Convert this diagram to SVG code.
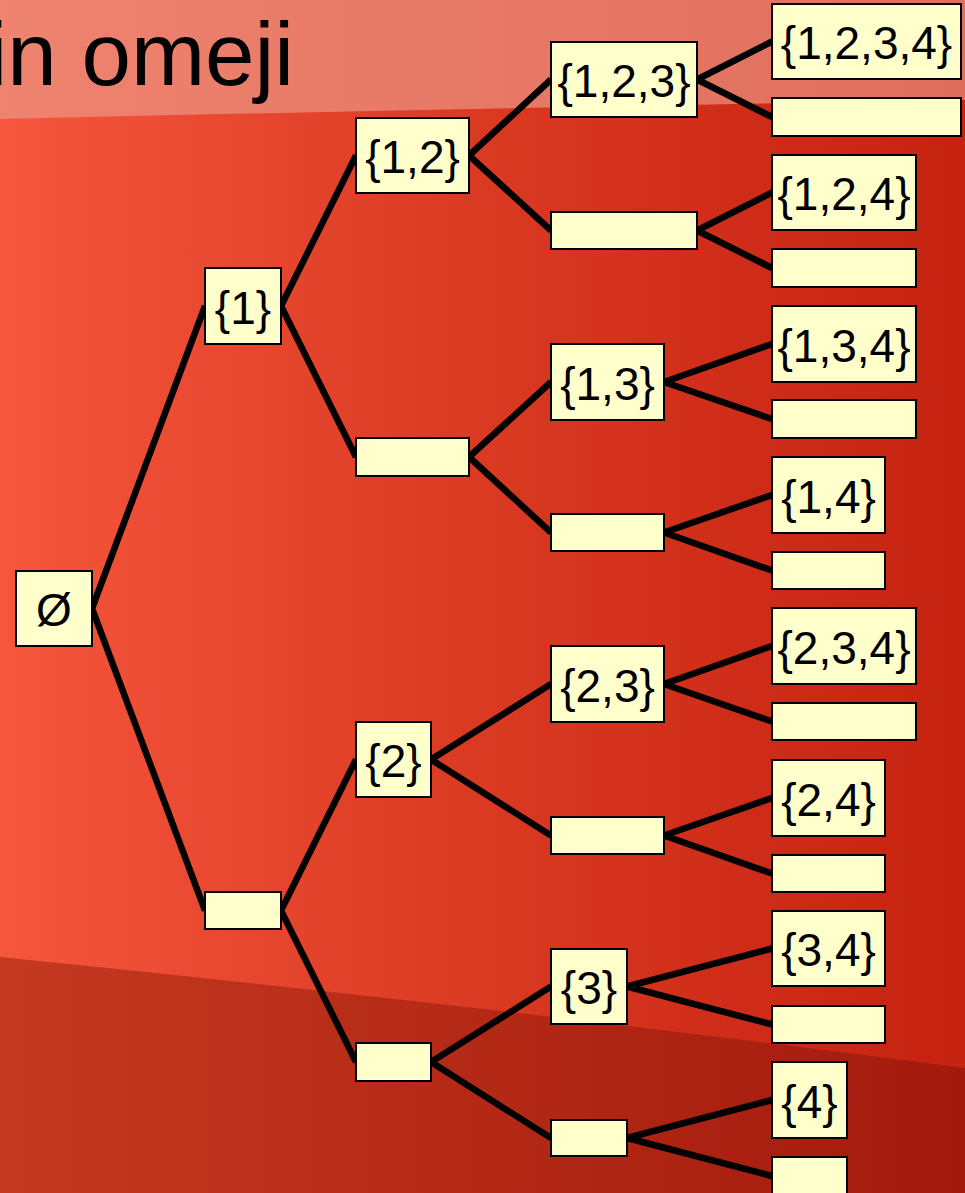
<svg xmlns="http://www.w3.org/2000/svg" width="965" height="1193" viewBox="0 0 965 1193">
<defs>
<linearGradient id="bgMain" x1="0" y1="0" x2="1" y2="0">
<stop offset="0" stop-color="#F6563C"/>
<stop offset="0.5" stop-color="#DA3922"/>
<stop offset="1" stop-color="#C52210"/>
</linearGradient>
<linearGradient id="bgTop" x1="0" y1="0" x2="1" y2="0">
<stop offset="0" stop-color="#EE836F"/>
<stop offset="1" stop-color="#DF6F5D"/>
</linearGradient>
<linearGradient id="bgBot" x1="0" y1="0" x2="1" y2="0">
<stop offset="0" stop-color="#C43920"/>
<stop offset="1" stop-color="#A3190C"/>
</linearGradient>
<style>
.box{fill:#FFFFCC;stroke:#000;stroke-width:2}
.lbl{font-family:"Liberation Sans",Arial,sans-serif;font-size:46px;fill:#000;text-anchor:middle}
.edge{stroke:#000;stroke-width:6.5;fill:none}
.title{font-family:"Liberation Sans",Arial,sans-serif;font-size:89px;fill:#000}
</style>
</defs>
<g id="background">
<rect x="0" y="0" width="965" height="1193" fill="url(#bgMain)"/>
<path d="M0,0 H965 V100 Q480,108 0,119 Z" fill="url(#bgTop)"/>
<path d="M0,957 Q480,1005 965,1068 V1193 H0 Z" fill="url(#bgBot)"/>
</g>
<text class="title" x="-12.6" y="85">in omeji</text>
<g id="connectors">
<path class="edge" d="M92,608.5 L205,306 M92,608.5 L205,910.5"/>
<path class="edge" d="M281,306 L356,155.5 M281,306 L356,457"/>
<path class="edge" d="M281,910.5 L356,759.5 M281,910.5 L356,1062"/>
<path class="edge" d="M469,155.5 L551,79.5 M469,155.5 L551,230.5"/>
<path class="edge" d="M469,457 L551,382 M469,457 L551,532.5"/>
<path class="edge" d="M431,759.5 L551,684 M431,759.5 L551,835.5"/>
<path class="edge" d="M431,1062 L551,986.5 M431,1062 L551,1138"/>
<path class="edge" d="M697,79.5 L772,41.5 M697,79.5 L772,117"/>
<path class="edge" d="M697,230.5 L772,192.5 M697,230.5 L772,268"/>
<path class="edge" d="M664,382 L772,344 M664,382 L772,419"/>
<path class="edge" d="M664,532.5 L772,495 M664,532.5 L772,570.5"/>
<path class="edge" d="M664,684 L772,646 M664,684 L772,721.5"/>
<path class="edge" d="M664,835.5 L772,798 M664,835.5 L772,873.5"/>
<path class="edge" d="M627,986.5 L772,948.5 M627,986.5 L772,1024.5"/>
<path class="edge" d="M627,1138 L772,1100 M627,1138 L772,1176"/>
</g>
<g id="n_empty_root"><rect class="box" x="16" y="571" width="76" height="75"/><text class="lbl" x="54" y="626">Ø</text></g>
<g id="n_1"><rect class="box" x="205" y="268" width="76" height="76"/><text class="lbl" x="243" y="323.5">{1}</text></g>
<g id="n_not1"><rect class="box" x="205" y="892" width="76" height="37"/></g>
<g id="n_12"><rect class="box" x="356" y="118" width="113" height="75"/><text class="lbl" x="412.5" y="173">{1,2}</text></g>
<g id="n_1not2"><rect class="box" x="356" y="438" width="113" height="38"/></g>
<g id="n_2"><rect class="box" x="356" y="722" width="75" height="75"/><text class="lbl" x="393.5" y="777">{2}</text></g>
<g id="n_not12"><rect class="box" x="356" y="1043" width="75" height="38"/></g>
<g id="n_123"><rect class="box" x="551" y="42" width="146" height="75"/><text class="lbl" x="624" y="97">{1,2,3}</text></g>
<g id="n_12not3"><rect class="box" x="551" y="212" width="146" height="37"/></g>
<g id="n_13"><rect class="box" x="551" y="344" width="113" height="76"/><text class="lbl" x="607.5" y="399.5">{1,3}</text></g>
<g id="n_1not23"><rect class="box" x="551" y="514" width="113" height="37"/></g>
<g id="n_23"><rect class="box" x="551" y="646" width="113" height="76"/><text class="lbl" x="607.5" y="701.5">{2,3}</text></g>
<g id="n_2not3"><rect class="box" x="551" y="817" width="113" height="37"/></g>
<g id="n_3"><rect class="box" x="551" y="949" width="76" height="75"/><text class="lbl" x="589" y="1004">{3}</text></g>
<g id="n_not123"><rect class="box" x="551" y="1120" width="76" height="36"/></g>
<g id="n_1234"><rect class="box" x="772" y="4" width="189" height="75"/><text class="lbl" x="866.5" y="59">{1,2,3,4}</text></g>
<g id="n_123x"><rect class="box" x="772" y="98" width="189" height="38"/></g>
<g id="n_124"><rect class="box" x="772" y="155" width="144" height="75"/><text class="lbl" x="844" y="210">{1,2,4}</text></g>
<g id="n_12x"><rect class="box" x="772" y="249" width="144" height="38"/></g>
<g id="n_134"><rect class="box" x="772" y="306" width="144" height="76"/><text class="lbl" x="844" y="361.5">{1,3,4}</text></g>
<g id="n_13x"><rect class="box" x="772" y="400" width="144" height="38"/></g>
<g id="n_14"><rect class="box" x="772" y="457" width="113" height="76"/><text class="lbl" x="828.5" y="512.5">{1,4}</text></g>
<g id="n_1x"><rect class="box" x="772" y="552" width="113" height="37"/></g>
<g id="n_234"><rect class="box" x="772" y="608" width="144" height="76"/><text class="lbl" x="844" y="663.5">{2,3,4}</text></g>
<g id="n_23x"><rect class="box" x="772" y="703" width="144" height="37"/></g>
<g id="n_24"><rect class="box" x="772" y="760" width="113" height="76"/><text class="lbl" x="828.5" y="815.5">{2,4}</text></g>
<g id="n_2x"><rect class="box" x="772" y="855" width="113" height="37"/></g>
<g id="n_34"><rect class="box" x="772" y="911" width="113" height="75"/><text class="lbl" x="828.5" y="966">{3,4}</text></g>
<g id="n_3x"><rect class="box" x="772" y="1006" width="113" height="37"/></g>
<g id="n_4"><rect class="box" x="772" y="1062" width="75" height="76"/><text class="lbl" x="809.5" y="1117.5">{4}</text></g>
<g id="n_none"><rect class="box" x="772" y="1157" width="75" height="40"/></g>
</svg>
